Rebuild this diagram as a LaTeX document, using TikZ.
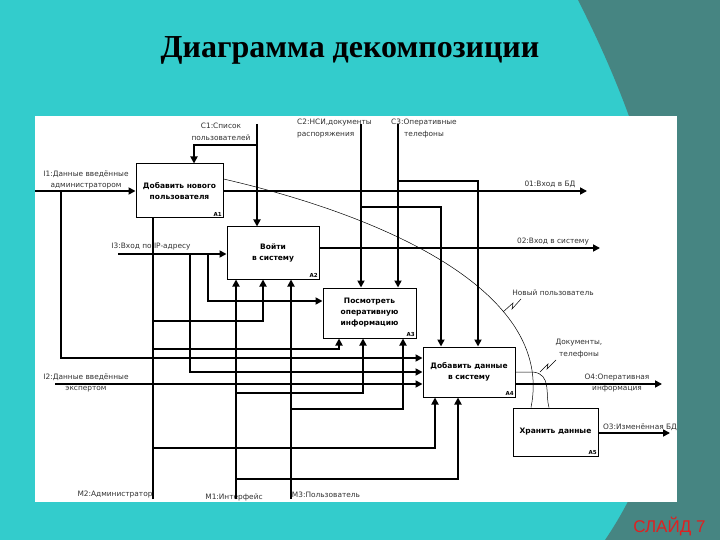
\documentclass[tikz,border=0pt]{standalone}
\usepackage{fontspec}
\setmainfont{DejaVu Sans}
\newfontfamily\titlefont{Liberation Serif}
\newfontfamily\slidefont{Liberation Sans}
\usetikzlibrary{arrows.meta}

\definecolor{slideteal}{RGB}{51,204,204}
\definecolor{slidedark}{RGB}{70,133,130}
\definecolor{slidered}{RGB}{224,32,32}
\definecolor{labelgray}{RGB}{50,50,50}

\tikzset{
  func/.style={draw, line width=1pt, fill=white, inner sep=0pt, align=center, font=\fontsize{7.5}{11}\selectfont\bfseries},
  flow/.style={line width=1.7pt},
  note/.style={line width=0.5pt},
  lbl/.style={inner sep=0pt, align=center, text=labelgray, font=\fontsize{7.4}{11.5}\selectfont},
  tag/.style={inner sep=1.5pt, anchor=south east, font=\fontsize{5.5}{6}\selectfont\bfseries},
}

\begin{document}
\begin{tikzpicture}[x=1pt,y=-1pt,>={Triangle[length=7pt,width=7pt]}]
\useasboundingbox (0,0) rectangle (720,540);
\fill[slideteal] (0,0) rectangle (720,540);
\fill[slidedark] (578,0) .. controls (690,220) and (700,400) .. (605,540) -- (720,540) -- (720,0) -- cycle;
\fill[white] (35,116) rectangle (677,502);
\node[font=\titlefont\fontsize{32}{32}\selectfont\bfseries, anchor=base] (title) at (350,58) {Диаграмма декомпозиции};
\node[font=\slidefont\fontsize{17}{17}\selectfont, text=slidered, anchor=base east] (slide) at (709,532) {СЛАЙД 7};

% labels
\node[lbl] (c1txt) at (221,132) {C1:Список\\пользователей};
\node[lbl, anchor=west, align=left] (c2txt) at (297,128.5) {C2:НСИ,документы\\распоряжения};
\node[lbl] (c3txt) at (424,128.5) {C3:Оперативные\\телефоны};
\node[lbl] (i1txt) at (86,180) {I1:Данные введённые\\администратором};
\node[lbl] (i3txt) at (151,247) {I3:Вход по IP-адресу};
\node[lbl] (i2txt) at (86,383) {I2:Данные введённые\\экспертом};
\node[lbl] (o1txt) at (550,184) {01:Вход в БД};
\node[lbl] (o2txt) at (553,242) {02:Вход в систему};
\node[lbl] (newtxt) at (553,293) {Новый пользователь};
\node[lbl] (doctxt) at (579,348.5) {Документы,\\телефоны};
\node[lbl] (o4txt) at (617,383) {O4:Оперативная\\информация};
\node[lbl] (o3txt) at (640,427) {O3:Изменённая БД};
\node[lbl] (m2txt) at (115,495) {M2:Администратор};
\node[lbl] (m1txt) at (234,497) {M1:Интерфейс};
\node[lbl] (m3txt) at (326,495) {M3:Пользователь};

% functions
\node[func, minimum width=87pt, minimum height=54pt] (a1) at (179.5,191) {Добавить нового\\пользователя};
\node[func, minimum width=92pt, minimum height=52pt] (a2) at (273,253) {Войти\\в систему};
\node[func, minimum width=93pt, minimum height=50pt] (a3) at (369.5,313) {Посмотреть\\оперативную\\информацию};
\node[func, minimum width=92pt, minimum height=50pt] (a4) at (469,372) {Добавить данные\\в систему};
\node[func, minimum width=85pt, minimum height=48pt] (a5) at (555.5,432) {Хранить данные};
\node[tag] at (a1.south east) {A1};
\node[tag] at (a2.south east) {A2};
\node[tag] at (a3.south east) {A3};
\node[tag] at (a4.south east) {A4};
\node[tag] at (a5.south east) {A5};

% controls
\coordinate (c1) at (257,124);
\coordinate (c2) at (361,124);
\coordinate (c3) at (398,124);
\draw[flow,->] (c1) -- (c1 |- a2.north);
\draw[flow,->] (c1 |- 0,145) -| (194,0 |- a1.north);
\draw[flow,->] (c2) -- (c2 |- a3.north);
\draw[flow,->] (c2 |- 0,207) -| (441,0 |- a4.north);
\draw[flow,->] (c3) -- (c3 |- a3.north);
\draw[flow,->] (c3 |- 0,181) -| (478,0 |- a4.north);

% inputs
\coordinate (i1) at (35,191);
\coordinate (i3) at (118,254);
\coordinate (i2) at (55,384);
\draw[flow,->] (i1) -- (i1 -| a1.west);
\draw[flow,->] (61,0 |- i1) |- (a4.west |- 0,358);
\draw[flow,->] (i3) -- (i3 -| a2.west);
\draw[flow,->] (190,0 |- i3) |- (a4.west |- 0,372);
\draw[flow,->] (208,0 |- i3) |- (a3.west |- 0,301);
\draw[flow,->] (i2) -- (i2 -| a4.west);

% mechanisms
\coordinate (m2) at (153,499);
\coordinate (m1) at (236,499);
\coordinate (m3) at (291,499);
\draw[flow] (m2) -- (m2 |- a1.south);
\draw[flow,->] (m2 |- 0,321) -| (263,0 |- a2.south);
\draw[flow,->] (m2 |- 0,349) -| (339,0 |- a3.south);
\draw[flow,->] (m2 |- 0,448) -| (435,0 |- a4.south);
\draw[flow,->] (m1) -- (m1 |- a2.south);
\draw[flow,->] (m1 |- 0,393) -| (363,0 |- a3.south);
\draw[flow,->] (m1 |- 0,479) -| (458,0 |- a4.south);
\draw[flow,->] (m3) -- (m3 |- a2.south);
\draw[flow,->] (m3 |- 0,409) -| (403,0 |- a3.south);

% outputs
\coordinate (o1) at (587,191);
\coordinate (o2) at (600,248);
\coordinate (o4) at (662,384);
\coordinate (o3) at (670,433);
\draw[flow,->] (a1.east |- o1) -- (o1);
\draw[flow,->] (a2.east |- o2) -- (o2);
\draw[flow,->] (a4.east |- o4) -- (o4);
\draw[flow,->] (a5.east |- o3) -- (o3);

% arrows to storage
\draw[note] (a1.east |- 0,179) .. controls (380,215) and (555,290) .. (531,0 |- a5.north);
\draw[note] (a4.east |- 0,372) -- (533,372) .. controls (552,374) and (545,395) .. (549,0 |- a5.north);
\draw[note] (503,312) -- (513,303) -- (512,309) -- (521,299);
\draw[note] (540,372) -- (548,364) -- (547,369) -- (556,360);
\end{tikzpicture}
\end{document}
